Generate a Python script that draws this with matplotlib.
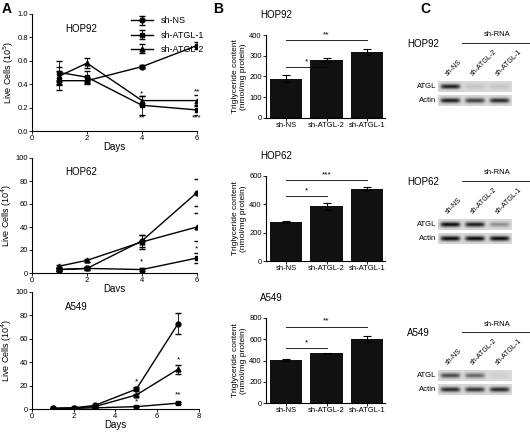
import numpy as np
import matplotlib
matplotlib.use("Agg")
from matplotlib import pyplot as plt

plt.rcParams['font.family'] = ['Liberation Sans', 'DejaVu Sans']
plt.rcParams['font.size'] = 6

# ---- panel A data ----
series = ["sh-NS", "sh-ATGL-1", "sh-ATGL-2"]
markers = ["o", "s", "^"]
hop92_days = [1, 2, 4, 6]
hop92_vals = [[0.43, 0.43, 0.55, 0.73], [0.50, 0.46, 0.22, 0.18], [0.47, 0.58, 0.26, 0.26]]
hop92_err = [[0.08, 0.03, 0.01, 0.03], [0.10, 0.05, 0.08, 0.04], [0.08, 0.04, 0.04, 0.05]]
hop62_days = [1, 2, 4, 6]
hop62_vals = [[3, 4, 28, 70], [3, 4, 3, 13], [6, 11, 27, 40]]
hop62_err = [[1, 1, 5, 12], [1, 1, 1, 4], [1, 1, 6, 12]]
a549_days = [1, 2, 3, 5, 7]
a549_vals = [[0.5, 1, 3, 17, 73], [0.5, 0.5, 1, 2, 5], [0.5, 1, 2, 12, 34]]
a549_err = [[0.5, 0.5, 0.5, 1.5, 9], [0.3, 0.3, 0.3, 0.5, 1], [0.3, 0.5, 0.5, 1, 4]]

# ---- panel B data ----
bar_labels = ["sh-NS", "sh-ATGL-2", "sh-ATGL-1"]
tg_hop92 = [190, 280, 318]
tg_hop92_err = [18, 10, 15]
tg_hop62 = [275, 385, 510]
tg_hop62_err = [5, 25, 10]
tg_a549 = [405, 470, 600]
tg_a549_err = [12, 5, 30]

# ---- panel C data (band intensity per lane) ----
lanes = ["sh-NS", "sh-ATGL-2", "sh-ATGL-1"]
atgl_bands = {"HOP92": [0.9, 0.1, 0.1], "HOP62": [1.0, 0.9, 0.35], "A549": [0.7, 0.55, 0.05]}
actin_bands = {"HOP92": [0.9, 0.75, 0.85], "HOP62": [1.0, 1.0, 1.0], "A549": [0.85, 0.8, 0.85]}

W, H = 530, 433
fig = plt.figure(figsize=(5.3, 4.33), dpi=100)


def ax_px(x0, y0, x1, y1):
    return fig.add_axes([x0 / W, 1 - y1 / H, (x1 - x0) / W, (y1 - y0) / H])


def style(ax):
    for s in ["top", "right"]:
        ax.spines[s].set_visible(False)
    ax.tick_params(length=2, width=0.6, labelsize=5.5, pad=1)
    for s in ["left", "bottom"]:
        ax.spines[s].set_linewidth(0.8)


def line_panel(ax, days, vals, errs, title, ylim, yticks, xmax, ylabel, stars):
    for v, e, m, lab in zip(vals, errs, markers, series):
        ax.errorbar(days, v, yerr=e, marker=m, ms=3.5, color="black", lw=1,
                    capsize=2, elinewidth=0.6, label=lab)
    ax.set_xlim(0, xmax)
    ax.set_ylim(*ylim)
    ax.set_yticks(yticks)
    ax.set_xticks(range(0, xmax + 1, 2))
    ax.set_xlabel("Days", fontsize=7, labelpad=0)
    ax.set_ylabel(ylabel, fontsize=6.5, labelpad=1)
    ax.text(0.2, 0.85, title, transform=ax.transAxes, fontsize=7)
    for x, y, s in stars:
        ax.text(x, y, s, ha="center", va="center", fontsize=6)
    style(ax)


axA1 = ax_px(32, 14, 197, 131)
line_panel(axA1, hop92_days, hop92_vals, hop92_err, "HOP92", (0, 1.0),
           [0, 0.2, 0.4, 0.6, 0.8, 1.0], 6, "Live Cells (10$^5$)",
           [(4, 0.32, "*"), (4, 0.11, "**"), (6, 0.33, "**"), (6, 0.11, "***")])
axA1.set_yticklabels(["0.0", "0.2", "0.4", "0.6", "0.8", "1.0"])
axA1.legend(loc="upper left", bbox_to_anchor=(0.55, 1.05), frameon=False, fontsize=6.5,
            handlelength=2.5, labelspacing=0.6)

axA2 = ax_px(32, 158, 197, 273)
line_panel(axA2, hop62_days, hop62_vals, hop62_err, "HOP62", (0, 100),
           [0, 20, 40, 60, 80, 100], 6, "Live Cells (10$^4$)",
           [(4, 10, "*"), (6, 21, "*")])

axA3 = ax_px(32, 292, 199, 409)
line_panel(axA3, a549_days, a549_vals, a549_err, "A549", (0, 100),
           [0, 20, 40, 60, 80, 100], 8, "Live Cells (10$^4$)",
           [(5, 23, "*"), (5, 6, "*"), (7, 42, "*"), (7, 12, "**")])


def bar_panel(ax, vals, errs, title, ymax, yticks, sig):
    x = np.arange(len(vals))
    ax.bar(x, vals, yerr=errs, width=0.8, color="#111111", capsize=3,
           error_kw=dict(elinewidth=0.8, capthick=0.8))
    ax.set_xticks(x)
    ax.set_xticklabels(bar_labels, fontsize=6.5)
    ax.set_xlim(-0.5, 2.45)
    ax.set_ylim(0, ymax)
    ax.set_yticks(yticks)
    ax.set_ylabel("Triglyceride content\n(nmol/mg protein)", fontsize=6, labelpad=2)
    ax.set_title(title, fontsize=7, loc="left", x=-0.05, pad=12)
    for x1, y, s in sig:
        ax.plot([0, x1], [y, y], color="black", lw=0.6, clip_on=False)
        ax.text(x1 / 2, y + ymax * 0.02, s, ha="center", va="bottom", fontsize=6)
    style(ax)


axB1 = ax_px(266, 35, 385, 118)
bar_panel(axB1, tg_hop92, tg_hop92_err, "HOP92", 400, [0, 100, 200, 300, 400],
          [(1, 245, "*"), (2, 375, "**")])
axB2 = ax_px(266, 176, 385, 261)
bar_panel(axB2, tg_hop62, tg_hop62_err, "HOP62", 600, [0, 200, 400, 600],
          [(1, 460, "*"), (2, 570, "***")])
axB3 = ax_px(266, 318, 385, 403)
bar_panel(axB3, tg_a549, tg_a549_err, "A549", 800, [0, 200, 400, 600, 800],
          [(1, 515, "*"), (2, 720, "**")])


def blot(y0, cell):
    xs = np.linspace(0, 3, 300)
    ys = np.linspace(-1, 1, 40)
    X, Y = np.meshgrid(xs, ys)
    for k, (lab, bands) in enumerate([("ATGL", atgl_bands[cell]), ("Actin", actin_bands[cell])]):
        top = y0 + 38 + k * 14
        ax = ax_px(438, top, 512, top + 11)
        img = np.zeros_like(X)
        for i, b in enumerate(bands):
            img += b * np.exp(-((X - (i + 0.5)) / 0.4) ** 6) * np.exp(-(Y / 0.45) ** 2)
        ax.imshow(0.85 - 0.8 * np.clip(img, 0, 1), cmap="gray", vmin=0, vmax=1,
                  aspect="auto", extent=(0, 3, -1, 1))
        ax.set_xticks([])
        ax.set_yticks([])
        for s in ax.spines.values():
            s.set_visible(False)
        fig.text(436 / W, 1 - (top + 5.5) / H, lab, ha="right", va="center", fontsize=5.5)
    fig.text(407 / W, 1 - (y0 + 1) / H, cell, fontsize=7, va="center")
    fig.text(497 / W, 1 - (y0 - 8) / H, "sh-RNA", fontsize=5.5, ha="center", va="center")
    fig.add_artist(plt.Line2D([462 / W, 530 / W], [1 - y0 / H, 1 - y0 / H],
                              color="black", lw=0.6))
    for i, lab in enumerate(lanes):
        fig.text((444 + 25 * i) / W, 1 - (y0 + 34) / H, lab, rotation=45,
                 fontsize=5, ha="left", va="bottom")


blot(43, "HOP92")
blot(181, "HOP62")
blot(332, "A549")

fig.text(2 / W, 1 - 9 / H, "A", fontsize=10, fontweight="bold", va="center")
fig.text(213 / W, 1 - 9 / H, "B", fontsize=10, fontweight="bold", va="center")
fig.text(420 / W, 1 - 9 / H, "C", fontsize=10, fontweight="bold", va="center")

fig.savefig("out.png", dpi=100)
